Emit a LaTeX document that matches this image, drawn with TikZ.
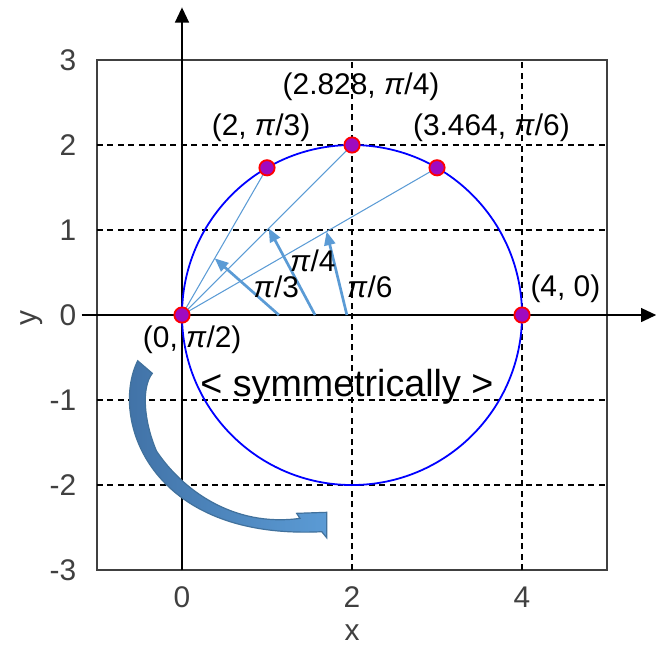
\documentclass[tikz,border=0pt]{standalone}
\usepackage{fontspec}
\setmainfont{Liberation Sans}
\usetikzlibrary{arrows.meta,calc}
\definecolor{raycol}{HTML}{5B9BD5}
\definecolor{dotfill}{HTML}{A00AC0}
\definecolor{bigdark}{HTML}{3F6FA3}
\definecolor{bigedge}{HTML}{41719C}
\definecolor{framecol}{HTML}{404040}

\begin{document}
\begin{tikzpicture}[
  font=\fontsize{10}{12}\selectfont,
  grid/.style={dash pattern=on 2pt off 1.5pt, line width=0.5pt},
  axis/.style={-{Triangle[length=1.8mm,width=1.6mm]}, line width=0.85pt},
  dot/.style={circle, draw=red, fill=dotfill, line width=0.6pt, minimum size=1.8mm, inner sep=0pt},
  ray/.style={draw=raycol, line width=0.35pt},
  angarr/.style={-{Triangle[length=1.6mm,width=1.3mm]}, draw=raycol, line width=0.9pt},
  tick/.style={text=black!75},
  bigarr/.style={left color=bigdark, right color=raycol, draw=bigedge, line width=0.4pt}
]
\useasboundingbox (-2.141,-3.941) rectangle (5.576,3.706);

\draw[framecol, line width=0.7pt] (-1,-3) rectangle (5,3);
\foreach \x in {0,2,4} \draw[grid] (\x,-3) -- (\x,3);
\foreach \y in {-2,...,2} \draw[grid] (-1,\y) -- (5,\y);

\foreach \v in {-3,...,3} \node[tick, anchor=east] (yt\v) at (-1.12,\v) {\v};
\foreach \v in {0,2,4} \node[tick] (xt\v) at (\v,-3.32) {\v};
\node[tick] (xlab) at (2,-3.74) {x};
\node[tick, rotate=90] (ylab) at (-1.765,-0.03) {y};

\coordinate (xs) at (-1.18,0);
\coordinate (xe) at (5.58,0);
\coordinate (ys) at (0,-3);
\coordinate (ye) at (0,3.62);
\draw[axis] (xs) -- (xe);
\draw[axis] (ys) -- (ye);

\draw[blue, line width=0.6pt] (2,0) circle (2);

\coordinate (o) at (0,0);
\coordinate (a) at (1,1.732);
\coordinate (b) at (2,2);
\coordinate (c) at (3,1.732);
\coordinate (d) at (4,0);
\draw[ray] (o) -- (a);
\draw[ray] (o) -- (b);
\draw[ray] (o) -- (c);

\coordinate (s1) at (1.14,0);
\coordinate (s2) at (1.565,0);
\coordinate (s3) at (1.94,0);
\draw[angarr] (s1) -- ($(o)!0.385!(a)$);
\draw[angarr] (s2) -- ($(o)!0.51!(b)$);
\draw[angarr] (s3) -- ($(o)!0.567!(c)$);

\node[dot] (p0) at (o) {};
\node[dot] (p1) at (a) {};
\node[dot] (p2) at (b) {};
\node[dot] (p3) at (c) {};
\node[dot] (p4) at (d) {};

\node (lb0) at (0.12,-0.29) {(0, \textit{π}/2)};
\node (lb1) at (0.93,2.2) {(2, \textit{π}/3)};
\node (lb2) at (2.106,2.68) {(2.828, \textit{π}/4)};
\node (lb3) at (3.64,2.2) {(3.464, \textit{π}/6)};
\node (lb4) at (4.51,0.31) {(4, 0)};
\node (an1) at (1.11,0.33) {\textit{π}/3};
\node (an2) at (1.54,0.64) {\textit{π}/4};
\node (an3) at (2.21,0.33) {\textit{π}/6};
\node[font=\fontsize{12.6}{15}\selectfont] (sym) at (1.94,-0.84) {< symmetrically >};

\path[bigarr] (-0.521,-0.538) .. controls (-0.85,-1.2) and (-0.4,-2.65) .. (1.644,-2.549)
  -- (1.702,-2.62) -- (1.702,-2.321) -- (1.349,-2.333) -- (1.388,-2.392)
  .. controls (0.6,-2.5) and (0.0,-2.05) .. (-0.3,-1.6)
  .. controls (-0.45,-1.25) and (-0.48,-0.85) .. (-0.349,-0.686)
  -- cycle;
\end{tikzpicture}
\end{document}
